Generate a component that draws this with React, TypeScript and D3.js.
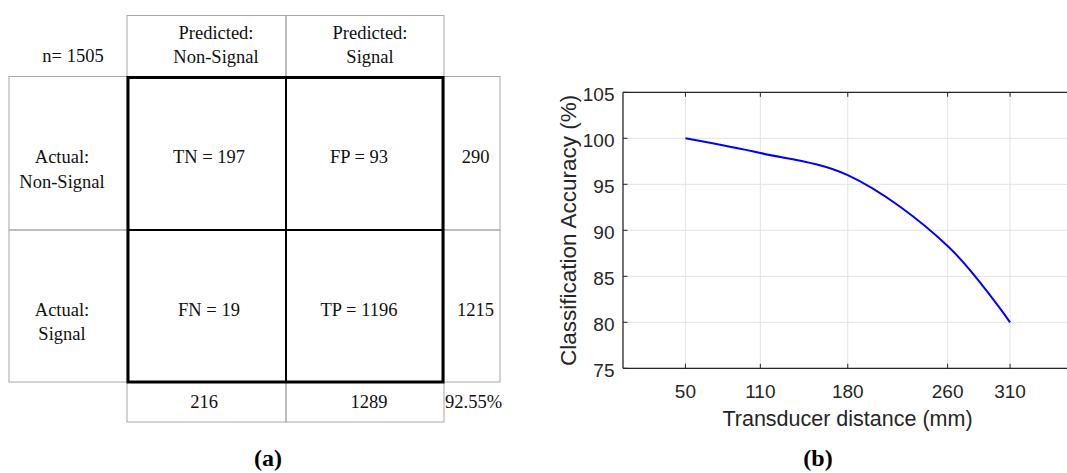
import React from "react";
import * as d3 from "d3";

// ---- (a) confusion matrix values ----
const sampleCount = 1505;
const predictedClasses = ["Non-Signal", "Signal"];
const actualClasses = ["Non-Signal", "Signal"];
const cellCodes = [
  ["TN", "FP"],
  ["FN", "TP"],
];
const cellCounts = [
  [197, 93],
  [19, 1196],
];
const rowTotals = [290, 1215];
const colTotals = [216, 1289];
const overallAccuracy = "92.55%";

// ---- (b) accuracy vs transducer distance ----
const distances = [50, 110, 180, 260, 310];
const accuracies = [100, 98.4, 96.0, 88.3, 80];
const yTicks = [75, 80, 85, 90, 95, 100, 105];

const SERIF = "'Liberation Serif', 'Times New Roman', serif";
const SANS = "'Liberation Sans', Arial, Helvetica, sans-serif";

function ConfusionTable() {
  // column / row edges of the table
  const xL = 9, x0 = 127, x1 = 286, x2 = 444, xR = 500;
  const yT = 15.5, y0 = 76.5, y1 = 230, y2 = 382, yB = 422;
  const thin = { stroke: "#a8a8a8", strokeWidth: 1, fill: "none" };
  const txt = { fontFamily: SERIF, fontSize: 18.5, fill: "#111" };
  const headerCx = [216, 370];
  const cellCx = [209, 359];
  const rowCy = [153.5, 306];
  const footCx = [204, 369];

  return (
    <g>
      {/* header cells */}
      <rect x={x0} y={yT} width={x1 - x0} height={y0 - yT} {...thin} />
      <rect x={x1} y={yT} width={x2 - x1} height={y0 - yT} {...thin} />
      {/* row label cells */}
      <rect x={xL} y={y0} width={x0 - xL} height={y1 - y0} {...thin} />
      <rect x={xL} y={y1} width={x0 - xL} height={y2 - y1} {...thin} />
      {/* row total cells */}
      <rect x={x2} y={y0} width={xR - x2} height={y1 - y0} {...thin} />
      <rect x={x2} y={y1} width={xR - x2} height={y2 - y1} {...thin} />
      {/* column total cells */}
      <rect x={x0} y={y2} width={x1 - x0} height={yB - y2} {...thin} />
      <rect x={x1} y={y2} width={x2 - x1} height={yB - y2} {...thin} />

      {/* heavy outline of the matrix body */}
      <line x1={x1} x2={x1} y1={y0} y2={y2} stroke="#000" strokeWidth={2} />
      <line x1={x0} x2={x2} y1={y1} y2={y1} stroke="#000" strokeWidth={2} />
      <rect x={x0 + 1} y={y0 + 1} width={x2 - x0 - 2} height={y2 - y0 - 1} fill="none" stroke="#000" strokeWidth={3} />

      <text x={73} y={61.5} textAnchor="middle" {...txt}>n= {sampleCount}</text>

      {predictedClasses.map((c, i) => (
        <text key={"p" + i} x={headerCx[i]} textAnchor="middle" {...txt}>
          <tspan x={headerCx[i]} y={38.5}>Predicted:</tspan>
          <tspan x={headerCx[i]} y={62.5}>{c}</tspan>
        </text>
      ))}

      {actualClasses.map((c, i) => (
        <text key={"a" + i} textAnchor="middle" {...txt}>
          <tspan x={62} y={rowCy[i] + 9.5}>Actual:</tspan>
          <tspan x={62} y={rowCy[i] + 34}>{c}</tspan>
        </text>
      ))}

      {cellCounts.map((row, r) =>
        row.map((v, c) => (
          <text key={`c${r}${c}`} x={cellCx[c]} y={rowCy[r] + 9.5} textAnchor="middle" {...txt}>
            {cellCodes[r][c]} = {v}
          </text>
        ))
      )}

      {rowTotals.map((v, i) => (
        <text key={"r" + i} x={475.5} y={rowCy[i] + 9.5} textAnchor="middle" {...txt}>{v}</text>
      ))}
      {colTotals.map((v, i) => (
        <text key={"t" + i} x={footCx[i]} y={408} textAnchor="middle" {...txt}>{v}</text>
      ))}
      <text x={445} y={408} textAnchor="start" {...txt}>{overallAccuracy}</text>

      <text x={268} y={466} textAnchor="middle" fontFamily={SERIF} fontWeight="bold" fontSize={24} fill="#000">(a)</text>
    </g>
  );
}

function AccuracyPlot() {
  const left = 623, right = 1072.5, top = 92.3, bottom = 368.3;
  const x = d3.scaleLinear().domain([0, 360]).range([left, right]);
  const y = d3.scaleLinear().domain([75, 105]).range([bottom, top]);
  const pts = distances.map((d, i) => [d, accuracies[i]] as [number, number]);
  const path = d3
    .line<[number, number]>()
    .x((d) => x(d[0]))
    .y((d) => y(d[1]))
    .curve(d3.curveCatmullRom.alpha(0.5))(pts) as string;
  const axisColor = "#262626";
  const gridColor = "#e3e3e3";
  const tickLen = 4.5;

  return (
    <g>
      {/* grid */}
      {yTicks.map((t) => (
        <line key={"gy" + t} x1={left} x2={right} y1={y(t)} y2={y(t)} stroke={gridColor} strokeWidth={1} />
      ))}
      {distances.map((t) => (
        <line key={"gx" + t} x1={x(t)} x2={x(t)} y1={top} y2={bottom} stroke={gridColor} strokeWidth={1} />
      ))}

      {/* data curve */}
      <path d={path} fill="none" stroke="#0000ff" strokeWidth={2} />

      {/* axes box */}
      <line x1={left} x2={left} y1={top} y2={bottom} stroke={axisColor} strokeWidth={1.3} />
      <line x1={left} x2={right} y1={bottom} y2={bottom} stroke={axisColor} strokeWidth={1.3} />
      <line x1={left} x2={right} y1={top} y2={top} stroke={axisColor} strokeWidth={1.3} />

      {/* ticks */}
      {yTicks.map((t) => (
        <g key={"ty" + t}>
          <line x1={left} x2={left + tickLen} y1={y(t)} y2={y(t)} stroke={axisColor} strokeWidth={1} />
          <text x={left - 8.5} y={y(t) + 8.5} textAnchor="end" fontFamily={SANS} fontSize={19} fill={axisColor}>{t}</text>
        </g>
      ))}
      {distances.map((t) => (
        <g key={"tx" + t}>
          <line x1={x(t)} x2={x(t)} y1={bottom} y2={bottom - tickLen} stroke={axisColor} strokeWidth={1} />
          <line x1={x(t)} x2={x(t)} y1={top} y2={top + tickLen} stroke={axisColor} strokeWidth={1} />
          <text x={x(t)} y={397.5} textAnchor="middle" fontFamily={SANS} fontSize={19} fill={axisColor}>{t}</text>
        </g>
      ))}

      <text x={847.5} y={426} textAnchor="middle" fontFamily={SANS} fontSize={21.5} fill={axisColor}>Transducer distance (mm)</text>
      <text transform={`translate(576,${(top + bottom) / 2}) rotate(-90)`} textAnchor="middle" fontFamily={SANS} fontSize={22.5} fill={axisColor}>
        Classification Accuracy (%)
      </text>

      <text x={818} y={466} textAnchor="middle" fontFamily={SERIF} fontWeight="bold" fontSize={24} fill="#000">(b)</text>
    </g>
  );
}

export default function App() {
  return (
    <svg
      width={1067}
      height={473}
      viewBox="0 0 1067 473"
      style={{ position: "absolute", left: 0, top: 0, background: "#fff" }}
    >
      <rect x={0} y={0} width={1067} height={473} fill="#fff" />
      <ConfusionTable />
      <AccuracyPlot />
    </svg>
  );
}
